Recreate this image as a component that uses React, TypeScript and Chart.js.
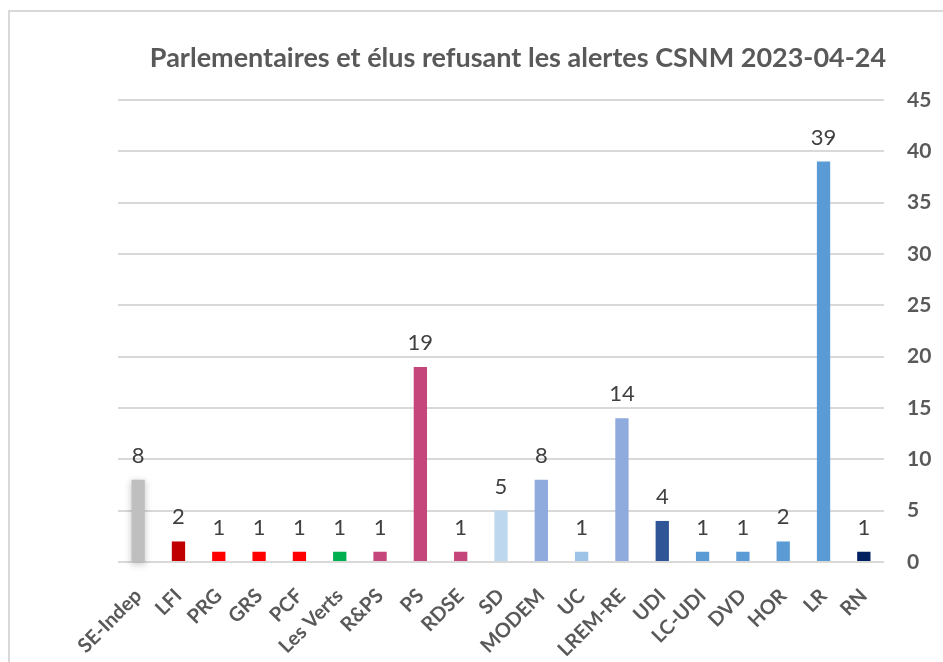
import React, { useEffect, useRef } from "react";
import { Chart, registerables } from "chart.js";

Chart.register(...registerables);

const TITLE = "Parlementaires et élus refusant les alertes CSNM 2023-04-24";
const categories = ["SE-Indep", "LFI", "PRG", "GRS", "PCF", "Les Verts", "R&PS", "PS", "RDSE", "SD", "MODEM", "UC", "LREM-RE", "UDI", "LC-UDI", "DVD", "HOR", "LR", "RN"];
const values = [8, 2, 1, 1, 1, 1, 1, 19, 1, 5, 8, 1, 14, 4, 1, 1, 2, 39, 1];
const barColors = ["#BFBFBF", "#C00000", "#FF0000", "#FF0000", "#FF0000", "#00B050", "#C5467A", "#C5467A", "#C5467A", "#BDD7EE", "#8FAADC", "#9DC3E6", "#8FAADC", "#2F5597", "#5B9BD5", "#5B9BD5", "#5B9BD5", "#5B9BD5", "#002060"];
const yMax = 45;
const yStep = 5;

const FONT = "Lato, 'Open Sans', sans-serif";

const decorPlugin = {
  id: "decor",
  beforeDatasetsDraw(chart: any) {
    const ctx = chart.ctx;
    const meta = chart.getDatasetMeta(0);
    const bar = meta.data[0];
    if (!bar) return;
    const { x, y, base, width } = bar.getProps(["x", "y", "base", "width"], true);
    ctx.save();
    ctx.filter = "blur(3px)";
    ctx.fillStyle = "rgba(0,0,0,0.18)";
    ctx.fillRect(x - width / 2 - 1, y + 1, width + 2, base - y + 3);
    ctx.restore();
  },
  afterDatasetsDraw(chart: any) {
    const ctx = chart.ctx;
    const meta = chart.getDatasetMeta(0);
    ctx.save();
    ctx.font = `22px ${FONT}`;
    ctx.fillStyle = "#404040";
    ctx.textAlign = "center";
    ctx.textBaseline = "alphabetic";
    meta.data.forEach((bar: any, i: number) => {
      ctx.fillText(String(values[i]), bar.x, bar.y - 17);
    });
    ctx.restore();
  },
  afterDraw(chart: any) {
    const ctx = chart.ctx;
    ctx.save();
    ctx.font = `bold 27px ${FONT}`;
    ctx.fillStyle = "#595959";
    ctx.textAlign = "center";
    ctx.textBaseline = "alphabetic";
    ctx.fillText(TITLE, 518, 67);
    ctx.restore();
  },
};

export default function App() {
  const ref = useRef<HTMLCanvasElement>(null);
  useEffect(() => {
    if (!ref.current) return;
    const chart = new Chart(ref.current, {
      type: "bar",
      data: {
        labels: categories,
        datasets: [
          {
            data: values,
            backgroundColor: barColors,
            borderWidth: 0,
            barPercentage: 0.33,
            categoryPercentage: 1,
          },
        ],
      },
      options: {
        responsive: false,
        animation: false,
        devicePixelRatio: 1,
        layout: { padding: { top: 100, left: 118, right: 0, bottom: 0 } },
        plugins: {
          legend: { display: false },
          title: { display: false },
          tooltip: { enabled: false },
        },
        scales: {
          x: {
            grid: { display: false },
            border: { display: false },
            ticks: {
              minRotation: 45,
              maxRotation: 45,
              autoSkip: false,
              padding: 14,
              color: "#595959",
              font: { family: FONT, size: 20, weight: "bold" },
            },
            afterFit(scale: any) {
              scale.height = 100;
            },
          },
          y: {
            position: "right",
            min: 0,
            max: yMax,
            ticks: {
              stepSize: yStep,
              padding: 23,
              color: "#595959",
              font: { family: FONT, size: 21, weight: "bold" },
            },
            grid: { color: "#D9D9D9", lineWidth: 2, drawTicks: false },
            border: { display: false },
            afterFit(scale: any) {
              scale.width = 59;
            },
          },
        },
      },
      plugins: [decorPlugin],
    } as any);
    return () => chart.destroy();
  }, []);
  return (
    <div style={{ position: "absolute", left: 0, top: 0, width: 943, height: 662, background: "#fff", overflow: "hidden" }}>
      <div style={{ position: "absolute", left: 8, top: 10, width: 1000, height: 1000, borderLeft: "2px solid #D9D9D9", borderTop: "2px solid #D9D9D9" }} />
      <canvas ref={ref} width={943} height={662} style={{ position: "absolute", left: 0, top: 0 }} />
    </div>
  );
}
